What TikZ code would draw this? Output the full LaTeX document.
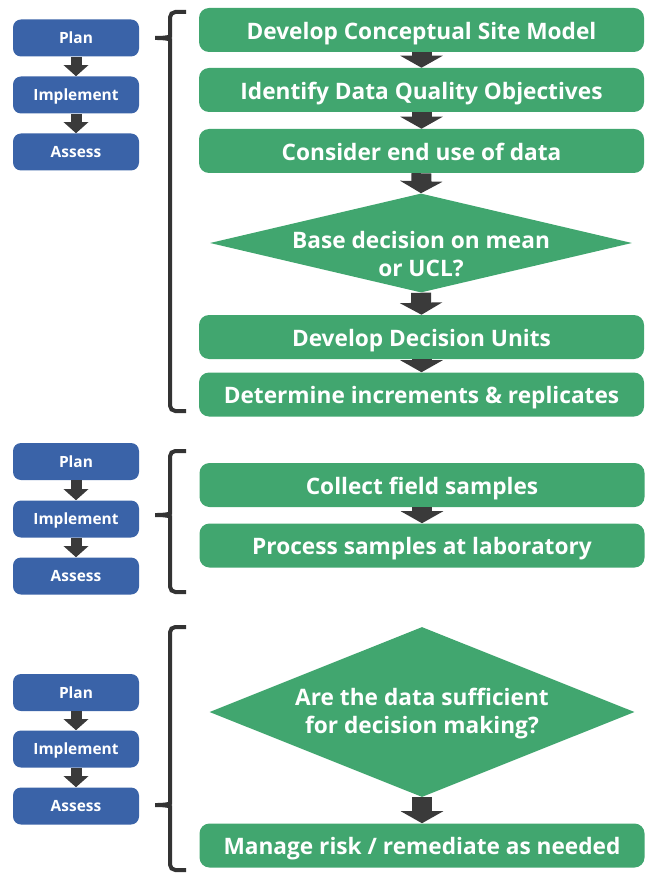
\documentclass[tikz,border=0pt]{standalone}
\usepackage{fontspec}
\setmainfont{Open Sans}
\usetikzlibrary{arrows.meta,positioning,shapes.geometric}
\definecolor{StepGreen}{HTML}{41A66F}
\definecolor{PhaseBlue}{HTML}{3A63A8}
\definecolor{ArrowGray}{HTML}{3A3A3A}
\definecolor{BraceGray}{HTML}{333333}

\begin{document}
\begin{tikzpicture}[x=0.75pt,y=-0.75pt,
    phase/.style={fill=PhaseBlue, rounded corners=6pt, minimum width=94.5pt, minimum height=27.75pt,
      text height=8.3pt, text depth=0pt, text=white, font=\bfseries\fontsize{11.6}{13}\selectfont},
    stepbox/.style={fill=StepGreen, rounded corners=7.5pt, minimum width=333.75pt, minimum height=33pt,
      text height=14pt, text depth=0pt, text=white, font=\bfseries\fontsize{17}{19}\selectfont},
    query/.style={diamond, fill=StepGreen, inner sep=0pt},
    querytext/.style={text=white, align=center, font=\bfseries\fontsize{17}{21}\selectfont},
    bigarrow/.style={ArrowGray, line width=15pt, -{Triangle[width=31.5pt,length=9pt]}},
    smallarrow/.style={ArrowGray, line width=8.25pt, -{Triangle[width=18pt,length=8.25pt]}},
    bracket/.style={BraceGray, line width=3pt, rounded corners=4pt}]
  \useasboundingbox (0,0) rectangle (648,873);

  % planning phase
  \node[phase] (plan1) at (76,38) {Plan};
  \node[phase] (impl1) at (76,95) {Implement};
  \node[phase] (assess1) at (76,152) {Assess};
  \draw[smallarrow] (plan1.south) -- (impl1.north);
  \draw[smallarrow] (impl1.south) -- (assess1.north);

  \node[stepbox] (csm) at (421.5,30) {Develop Conceptual Site Model};
  \node[stepbox] (dqo) at (421.5,90) {Identify Data Quality Objectives};
  \node[stepbox] (enduse) at (421.5,151) {Consider end use of data};
  \node[query, minimum width=316.5pt, minimum height=74.25pt] (meanucl) at (421,243) {};
  \node[querytext] (meanucltext) at (421,254) {Base decision on mean\\or UCL?};
  \node[stepbox] (units) at (421.5,337) {Develop Decision Units};
  \node[stepbox] (increments) at (421.5,394.5) {Determine increments \& replicates};
  \draw[bigarrow] (csm.south) -- (dqo.north);
  \draw[bigarrow] (dqo.south) -- (enduse.north);
  \draw[bigarrow] (enduse.south) -- (meanucl.north);
  \draw[bigarrow] (meanucl.south) -- (units.north);
  \draw[bigarrow] (units.south) -- (increments.north);

  \draw[bracket] (186,12) -- (170,12) -- (170,31) .. controls (170,37) and (164,38) .. (152,38)
    .. controls (164,38) and (170,39) .. (170,45) -- (170,411) -- (186,411);

  % sampling phase
  \node[phase] (plan2) at (76,461.5) {Plan};
  \node[phase] (impl2) at (76,519) {Implement};
  \node[phase] (assess2) at (76,576) {Assess};
  \draw[smallarrow] (plan2.south) -- (impl2.north);
  \draw[smallarrow] (impl2.south) -- (assess2.north);

  \node[stepbox] (collect) at (422,485) {Collect field samples};
  \node[stepbox] (process) at (422,545.5) {Process samples at laboratory};
  \draw[bigarrow] (collect.south) -- (process.north);

  \draw[bracket] (186,451) -- (170,451) -- (170,508) .. controls (170,514) and (164,515) .. (152,515)
    .. controls (164,515) and (170,516) .. (170,522) -- (170,592) -- (186,592);

  % assessment phase
  \node[phase] (plan3) at (76,692.5) {Plan};
  \node[phase] (impl3) at (76,749) {Implement};
  \node[phase] (assess3) at (76,806) {Assess};
  \draw[smallarrow] (plan3.south) -- (impl3.north);
  \draw[smallarrow] (impl3.south) -- (assess3.north);

  \node[query, minimum width=318.75pt, minimum height=127.5pt] (enough) at (422,712) {};
  \node[querytext] (enoughtext) at (422,714) {Are the data sufficient\\for decision making?};
  \node[stepbox] (manage) at (422,845.5) {Manage risk / remediate as needed};
  \draw[bigarrow] (enough.south) -- (manage.north);

  \draw[bracket] (186,627) -- (170,627) -- (170,798) .. controls (170,804) and (164,805) .. (152,805)
    .. controls (164,805) and (170,806) .. (170,812) -- (170,870) -- (186,870);
\end{tikzpicture}
\end{document}
